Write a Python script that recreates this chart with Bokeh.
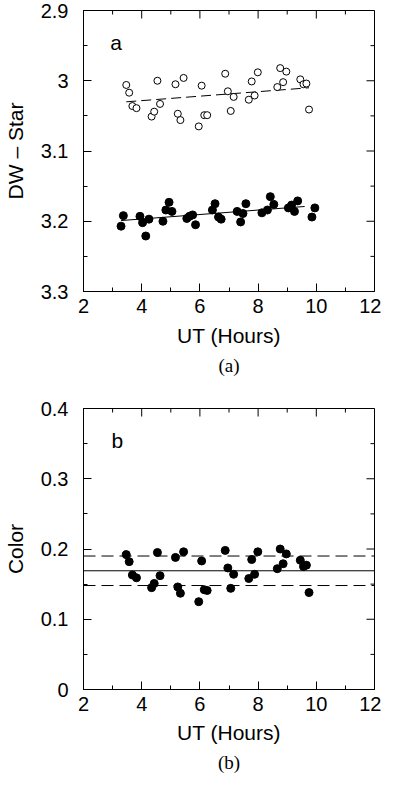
import math
from bokeh.plotting import figure
from bokeh.layouts import column
from bokeh.models import Range1d, FixedTicker, Span, Label, Title
from bokeh.embed import file_html
from bokeh.resources import INLINE

# ---------------- data ----------------
# Panel (a): DW - Star
open_ut = [3.47, 3.57, 3.68, 3.82, 4.34, 4.43, 4.54, 4.63, 5.16, 5.24, 5.33, 5.44,
           5.96, 6.06, 6.15, 6.25, 6.87, 6.96, 7.06, 7.16, 7.68, 7.78, 7.88, 7.99,
           8.66, 8.76, 8.86, 8.97, 9.45, 9.56, 9.66, 9.75]
open_dw = [3.006, 3.017, 3.036, 3.039, 3.051, 3.044, 3.000, 3.033, 3.005, 3.047, 3.056, 2.996,
           3.065, 3.007, 3.049, 3.049, 2.990, 3.015, 3.043, 3.023, 3.027, 3.001, 3.021, 2.988,
           3.009, 2.982, 3.002, 2.987, 2.998, 3.005, 3.004, 3.041]
filled_ut = [3.29, 3.37, 3.94, 4.03, 4.14, 4.25, 4.73, 4.83, 4.94, 5.04, 5.55, 5.64,
             5.75, 5.85, 6.43, 6.52, 6.64, 6.73, 7.28, 7.40, 7.48, 7.58, 8.13, 8.32,
             8.42, 8.54, 9.04, 9.15, 9.25, 9.36, 9.85, 9.95]
filled_dw = [3.207, 3.192, 3.193, 3.202, 3.221, 3.197, 3.200, 3.184, 3.173, 3.186, 3.196, 3.193,
             3.191, 3.205, 3.184, 3.175, 3.194, 3.197, 3.186, 3.201, 3.189, 3.175, 3.188, 3.184,
             3.165, 3.176, 3.181, 3.177, 3.186, 3.171, 3.194, 3.181]
open_fit_ut = [3.47, 9.75]
open_fit_dw = [3.030, 3.010]
filled_fit_ut = [3.29, 9.60]
filled_fit_dw = [3.199, 3.179]

# Panel (b): Color
color_ut = open_ut
color_val = [0.192, 0.182, 0.163, 0.159, 0.145, 0.151, 0.195, 0.162, 0.188, 0.146, 0.137, 0.196,
             0.125, 0.183, 0.142, 0.141, 0.198, 0.173, 0.144, 0.164, 0.158, 0.185, 0.164, 0.196,
             0.172, 0.200, 0.179, 0.193, 0.184, 0.175, 0.177, 0.138]
color_mean = 0.169
color_upper = 0.190
color_lower = 0.148

x_ticks = [2, 4, 6, 8, 10, 12]
x_minor = [3, 5, 7, 9, 11]
dw_ticks = [2.9, 3.0, 3.1, 3.2, 3.3]
dw_minor = [2.95, 3.05, 3.15, 3.25]
color_ticks = [0, 0.1, 0.2, 0.3, 0.4]
color_minor = [0.05, 0.15, 0.25, 0.35]

SANS = "Liberation Sans"
SERIF = "Liberation Serif"


def style_axis(ax):
    ax.axis_line_color = "black"
    ax.major_tick_line_color = "black"
    ax.minor_tick_line_color = "black"
    ax.major_tick_in = 8
    ax.major_tick_out = 0
    ax.minor_tick_in = 4
    ax.minor_tick_out = 0
    ax.major_label_text_font = SANS
    ax.major_label_text_color = "black"
    ax.axis_label_text_font = SANS
    ax.axis_label_text_font_style = "normal"
    ax.axis_label_text_color = "black"
    ax.axis_label_text_font_size = "21px"
    ax.major_label_text_font_size = "20px"


def mirror_ticks(p, y_top, x_right, yticks, yminor):
    # inward ticks on the top and right edges of the frame
    p.ray(x=x_ticks, y=[y_top] * len(x_ticks), length=8, length_units="screen",
          angle=-math.pi / 2, line_color="black", line_width=1)
    p.ray(x=x_minor, y=[y_top] * len(x_minor), length=4, length_units="screen",
          angle=-math.pi / 2, line_color="black", line_width=1)
    p.ray(x=[x_right] * len(yticks), y=yticks, length=8, length_units="screen",
          angle=math.pi, line_color="black", line_width=1)
    p.ray(x=[x_right] * len(yminor), y=yminor, length=4, length_units="screen",
          angle=math.pi, line_color="black", line_width=1)


def make_panel(y_range, yticks, yminor, ylabel, overrides, top_border, height, bottom_border,
               caption, letter, letter_xy, tick_so, label_so, cap_so):
    p = figure(width=381, height=height, x_range=Range1d(2, 12), y_range=y_range,
               min_border_left=80, min_border_right=7, min_border_top=top_border,
               min_border_bottom=bottom_border,
               output_backend="svg", toolbar_location=None)
    p.grid.visible = False
    p.outline_line_color = "black"
    p.outline_line_width = 1
    p.background_fill_color = "white"
    p.border_fill_color = "white"

    xa = p.xaxis[0]
    xa.ticker = FixedTicker(ticks=x_ticks, minor_ticks=x_minor)
    xa.axis_label = "UT (Hours)"
    style_axis(xa)
    xa.major_label_standoff = tick_so
    xa.axis_label_standoff = label_so

    ya = p.yaxis[0]
    ya.ticker = FixedTicker(ticks=yticks, minor_ticks=yminor)
    ya.axis_label = ylabel
    ya.major_label_overrides = overrides
    style_axis(ya)
    ya.major_label_standoff = 15
    ya.axis_label_standoff = 11

    p.add_layout(Label(x=letter_xy[0], y=letter_xy[1], text=letter, text_font=SANS,
                       text_font_size="21px", text_align="left", text_baseline="middle",
                       text_color="black"))
    p.add_layout(Title(text=caption, align="center", text_font=SERIF, text_font_size="19px",
                       text_font_style="normal", text_color="black", standoff=cap_so),
                 "below")
    return p


p1 = make_panel(Range1d(3.3, 2.9), dw_ticks, dw_minor, "DW \u2013 Star", {3: "3"},
                10, 390, 99, "(a)", "a", (2.92, 2.9456), 7, 8, 6)
mirror_ticks(p1, p1.y_range.end, p1.x_range.end, dw_ticks, dw_minor)
p1.line(open_fit_ut, open_fit_dw, line_color="black", line_width=1, line_dash="10 5")
p1.line(filled_fit_ut, filled_fit_dw, line_color="black", line_width=1)
p1.scatter(open_ut, open_dw, size=7, marker="circle", fill_color="white",
           line_color="black", line_width=1)
p1.scatter(filled_ut, filled_dw, size=8, marker="circle", fill_color="black",
           line_color="black", line_width=1)

p2 = make_panel(Range1d(0, 0.4), color_ticks, color_minor, "Color", {0: "0"},
                18, 387, 88, "(b)", "b", (2.96, 0.355), 7, 7, 7)
mirror_ticks(p2, p2.y_range.end, p2.x_range.end, color_ticks, color_minor)
p2.add_layout(Span(location=color_mean, dimension="width", line_color="black", line_width=1))
p2.add_layout(Span(location=color_upper, dimension="width", line_color="black", line_width=1,
                   line_dash="12 6"))
p2.add_layout(Span(location=color_lower, dimension="width", line_color="black", line_width=1,
                   line_dash="12 6"))
p2.scatter(color_ut, color_val, size=8, marker="circle", fill_color="black",
           line_color="black", line_width=1)

layout = column(p1, p2, spacing=0)
open("out.html", "w").write(file_html(layout, INLINE))
